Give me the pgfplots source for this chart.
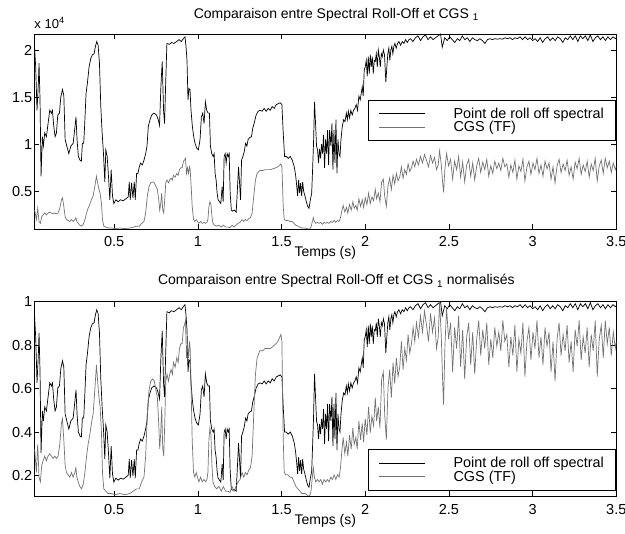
\documentclass[border=0pt]{standalone}
\usepackage{fontspec}
\setmainfont{Liberation Sans}
\usepackage{pgfplots}
\usepackage{pgfplotstable}
\pgfplotsset{compat=1.18}
\definecolor{cgsgray}{gray}{0.45}

\pgfplotstableread{
x y
0.021 21300
0.031 18200
0.039 13600
0.047 16500
0.051 18600
0.057 14700
0.063 6600
0.071 10800
0.077 9800
0.085 11200
0.095 10800
0.105 12200
0.115 13600
0.125 13300
0.131 13600
0.139 11900
0.147 10800
0.155 11200
0.163 13100
0.173 13300
0.181 15000
0.191 15800
0.199 15200
0.207 10500
0.217 9800
0.229 9000
0.241 9800
0.255 10100
0.266 11900
0.272 12900
0.278 10500
0.286 8700
0.296 8300
0.304 8200
0.310 10100
0.318 10100
0.324 12200
0.332 15400
0.340 16500
0.350 18200
0.360 19100
0.370 19500
0.380 19600
0.388 20400
0.396 20900
0.404 20500
0.412 18600
0.420 14000
0.428 11200
0.436 9000
0.444 6000
0.450 9400
0.458 8700
0.466 6600
0.474 4100
0.482 7300
0.490 4500
0.498 3700
0.510 4100
0.524 3900
0.538 4100
0.554 4000
0.570 4200
0.584 4400
0.590 6000
0.596 4100
0.604 5900
0.612 4300
0.620 6000
0.626 4100
0.634 6900
0.642 6900
0.650 7600
0.658 8000
0.668 7800
0.678 8300
0.688 9000
0.696 9800
0.704 11900
0.714 12600
0.724 13100
0.738 13300
0.753 13100
0.763 12600
0.771 12000
0.779 16100
0.787 18800
0.795 13600
0.801 12200
0.807 16100
0.815 20700
0.829 20600
0.843 20800
0.857 20700
0.873 20900
0.887 21100
0.901 20900
0.913 21200
0.923 21400
0.929 20400
0.935 18900
0.941 14700
0.947 15900
0.953 15800
0.959 13600
0.967 11900
0.975 10800
0.983 10100
0.993 9600
1.003 9400
1.013 10500
1.021 12900
1.029 13300
1.037 12200
1.045 14500
1.053 13600
1.061 13300
1.069 13300
1.075 9800
1.083 9000
1.091 8700
1.097 9000
1.103 6900
1.109 6200
1.115 4800
1.121 4100
1.129 3900
1.137 3700
1.145 5500
1.151 3900
1.157 8700
1.163 9000
1.169 8000
1.175 9000
1.181 8700
1.187 9000
1.193 4800
1.200 3000
1.207 2900
1.217 3000
1.229 2800
1.237 5500
1.243 7600
1.249 5900
1.255 4100
1.261 8300
1.269 8700
1.277 9200
1.285 10100
1.293 9800
1.300 10500
1.310 10700
1.320 10800
1.328 11700
1.336 12200
1.348 13100
1.360 13500
1.372 13600
1.384 13500
1.396 13800
1.408 13500
1.420 13800
1.432 13600
1.444 14000
1.456 13800
1.468 14200
1.480 14300
1.492 14400
1.502 14200
1.510 11200
1.518 8700
1.528 8700
1.540 8500
1.552 8700
1.564 8300
1.576 7600
1.584 6700
1.590 5700
1.596 4500
1.602 6200
1.608 4800
1.614 5900
1.620 4500
1.626 6000
1.632 5000
1.640 4500
1.648 3900
1.656 3400
1.664 3200
1.672 4100
1.680 4800
1.686 7600
1.691 10100
1.697 14500
1.703 12200
1.709 9800
1.715 9400
1.721 8000
1.727 9500
1.733 8500
1.739 10000
1.745 9000
1.751 11000
1.757 7500
1.763 10500
1.769 9000
1.775 11500
1.781 7800
1.787 11500
1.795 9800
1.801 12200
1.807 7300
1.813 11500
1.819 8000
1.825 12600
1.831 6900
1.837 10500
1.843 9000
1.849 8700
1.855 10500
1.863 11900
1.871 12600
1.879 12400
1.887 13300
1.893 12600
1.899 13500
1.906 12800
1.914 13600
1.922 13100
1.930 13600
1.938 13800
1.946 14200
1.954 13600
1.962 15100
1.970 14700
1.976 15400
1.982 16100
1.988 15100
1.994 17900
2.000 18200
2.006 18900
2.012 17200
2.018 19300
2.024 17500
2.030 19500
2.036 18200
2.042 19300
2.048 17500
2.054 18900
2.060 18800
2.066 19600
2.072 18200
2.078 20000
2.084 19300
2.090 18200
2.096 19600
2.102 19300
2.108 20000
2.115 19500
2.123 16600
2.129 18200
2.135 19600
2.141 20200
2.147 18900
2.153 20000
2.159 20400
2.165 19600
2.171 20400
2.177 20700
2.185 20200
2.193 20700
2.201 20900
2.211 20500
2.221 20900
2.231 20700
2.241 21100
2.251 20800
2.261 21100
2.270 21200
2.285 20900
2.300 21300
2.315 21500
2.330 21000
2.345 21400
2.360 21600
2.375 21100
2.390 21400
2.405 21100
2.420 21300
2.435 21500
2.450 21700
2.460 20300
2.475 21300
2.490 21000
2.505 21400
2.520 21100
2.535 20800
2.550 21200
2.565 21000
2.580 21500
2.595 21100
2.610 21300
2.625 20900
2.640 21300
2.655 21100
2.670 21000
2.685 21200
2.700 21000
2.715 20700
2.730 21100
2.745 21200
2.760 21100
2.775 21200
2.790 21150
2.805 21200
2.820 21150
2.835 21300
2.850 21200
2.865 21300
2.880 21100
2.895 21300
2.910 21200
2.925 21400
2.940 21100
2.955 21400
2.970 21100
2.985 21300
3.000 21000
3.015 21200
3.030 20900
3.045 21300
3.060 20800
3.075 21200
3.090 21400
3.105 21000
3.120 21300
3.135 21000
3.150 21400
3.165 21200
3.180 20800
3.195 21300
3.210 21100
3.225 21500
3.240 21100
3.255 21500
3.270 20900
3.285 21500
3.300 21200
3.315 21500
3.330 21000
3.345 21600
3.360 20900
3.375 21300
3.390 21500
3.405 21100
3.420 21400
3.435 21000
3.450 21400
3.465 21100
3.480 21400
3.495 21200
3.500 21300
}\rolloff

\pgfplotstableread{
x y
0.021 3000
0.025 3000
0.035 2000
0.043 3200
0.051 1800
0.059 1600
0.067 2300
0.075 2500
0.085 2700
0.095 2500
0.105 2700
0.115 2800
0.125 2700
0.135 2600
0.145 2700
0.155 2600
0.165 2700
0.175 3200
0.185 4100
0.191 4300
0.199 3400
0.207 2300
0.215 2000
0.225 1900
0.235 1800
0.245 2000
0.255 1800
0.265 2000
0.271 2200
0.277 1800
0.285 1600
0.295 1400
0.305 1300
0.315 1500
0.325 2000
0.335 2700
0.344 3200
0.354 3600
0.364 4100
0.374 4500
0.384 5500
0.394 6600
0.400 6000
0.408 5300
0.416 4800
0.424 3700
0.430 2000
0.438 1300
0.450 1200
0.464 1100
0.484 1100
0.504 1050
0.534 1100
0.564 1050
0.594 1100
0.614 1200
0.634 1300
0.650 1300
0.664 1600
0.678 1800
0.688 2700
0.698 4500
0.708 5500
0.718 5900
0.730 6000
0.740 5900
0.750 5500
0.758 5200
0.766 4100
0.772 3000
0.778 3700
0.784 4800
0.790 3000
0.796 2700
0.802 4100
0.808 5900
0.816 6200
0.824 5900
0.832 6200
0.840 6400
0.848 6200
0.854 6700
0.864 6500
0.874 6900
0.882 6700
0.890 7300
0.898 7500
0.906 7500
0.914 8200
0.920 8300
0.926 8500
0.932 6900
0.938 7500
0.944 6900
0.950 7600
0.954 7300
0.960 5500
0.966 3400
0.974 2000
0.982 1800
0.990 2000
0.998 1800
1.006 1600
1.016 1800
1.026 1600
1.036 1700
1.046 1600
1.054 1700
1.060 2000
1.066 3400
1.072 3900
1.078 3600
1.084 2300
1.090 1600
1.100 1400
1.112 1300
1.126 1400
1.140 1200
1.152 1400
1.166 1200
1.180 1200
1.192 1150
1.204 1400
1.216 1200
1.228 1400
1.240 1600
1.252 1700
1.264 2000
1.274 1800
1.284 2000
1.294 1900
1.304 2100
1.314 2200
1.324 2700
1.334 4500
1.344 6200
1.354 6900
1.370 7200
1.386 7200
1.402 7300
1.418 7300
1.434 7300
1.450 7400
1.466 7500
1.478 7600
1.490 7800
1.496 7900
1.502 7600
1.510 3400
1.516 2000
1.526 1900
1.538 1900
1.550 1800
1.562 1800
1.574 1600
1.586 1400
1.598 1300
1.610 1200
1.622 1100
1.640 1100
1.650 1050
1.660 1000
1.668 1000
1.676 1200
1.684 1800
1.690 2200
1.696 1800
1.704 1600
1.714 1700
1.724 1600
1.734 1700
1.744 1500
1.754 1700
1.764 1600
1.774 1700
1.784 1600
1.794 1800
1.804 1700
1.814 1900
1.824 1700
1.834 1900
1.844 1800
1.852 2200
1.860 2900
1.868 3500
1.878 2800
1.888 3300
1.896 2700
1.906 3600
1.916 3000
1.926 3900
1.934 3200
1.944 3500
1.952 3000
1.962 4200
1.972 3400
1.982 4100
1.990 3300
2.000 4300
2.010 3600
2.020 4800
2.030 3700
2.040 4400
2.050 4000
2.060 5200
2.068 4200
2.078 4800
2.088 3900
2.098 6000
2.108 6300
2.116 4500
2.126 3400
2.136 5600
2.146 6400
2.156 5200
2.166 6700
2.176 5800
2.186 6900
2.196 6100
2.206 6500
2.216 7600
2.226 6400
2.236 7300
2.246 6800
2.256 7900
2.266 7100
2.276 7500
2.286 8200
2.296 7600
2.306 8400
2.318 7800
2.330 8700
2.342 8000
2.354 8900
2.366 8300
2.378 7600
2.390 8800
2.402 8000
2.414 8600
2.426 7300
2.436 7800
2.444 9300
2.454 7900
2.462 6000
2.468 4900
2.476 7400
2.486 9000
2.498 7700
2.510 8400
2.522 6300
2.534 8200
2.546 7300
2.558 8700
2.570 6500
2.582 8100
2.594 6000
2.606 7800
2.618 8400
2.630 6600
2.642 8000
2.654 6200
2.666 7700
2.678 8500
2.690 7000
2.702 8100
2.714 7300
2.726 8400
2.738 6600
2.750 7700
2.762 6900
2.774 8200
2.786 7400
2.798 8000
2.810 7200
2.822 8500
2.834 7600
2.846 7900
2.858 6500
2.870 7800
2.882 7000
2.894 8300
2.906 6300
2.918 7700
2.930 7100
2.942 8400
2.954 6100
2.966 7600
2.978 8200
2.990 6800
3.002 8000
3.014 7300
3.026 8500
3.038 6900
3.050 7800
3.062 6600
3.074 8200
3.086 7400
3.098 8000
3.110 6300
3.122 7600
3.134 5900
3.146 7700
3.158 8400
3.170 7000
3.182 7900
3.194 7200
3.206 8300
3.218 6700
3.230 7600
3.242 6300
3.254 8100
3.266 7400
3.278 8500
3.290 6800
3.302 7800
3.314 7100
3.326 8200
3.338 6500
3.350 7900
3.362 7200
3.374 8500
3.386 6100
3.398 7700
3.410 8300
3.422 6900
3.434 8500
3.446 7500
3.458 8200
3.470 7000
3.482 8000
3.494 7300
3.500 7600
}\cgs

\newcommand{\txtfont}{\fontsize{14bp}{17bp}\selectfont}

\pgfplotsset{
  myax/.style={
    scale only axis, width=582bp,
    xmin=0.0227, xmax=3.5,
    xtick={0.5,1,1.5,2,2.5,3,3.5},
    tick label style={font=\fontsize{14.5bp}{17bp}\selectfont},
    /pgf/number format/assume math mode=true,
    axis line style={line width=0.8bp},
    every tick/.style={black, line width=0.6bp},
    major tick length=5bp,
    xticklabel style={anchor=base, yshift=-18bp},
    yticklabel style={xshift=1.5bp},
    legend cell align=left,
    legend image code/.code={\draw[##1] (0bp,0bp) -- (46bp,0bp);},
    legend style={font=\fontsize{14.4bp}{17bp}\selectfont, draw=black, line width=1bp,
      inner xsep=10bp, inner ysep=5.5bp, row sep=-2.5bp,
      /tikz/every odd column/.append style={column sep=26bp}},
  },
  blk/.style={black, line width=0.7bp},
  gry/.style={cgsgray, line width=0.7bp},
}

\begin{document}
\begin{tikzpicture}
\path[use as bounding box] (0,0) rectangle (625bp,534bp);
\begin{axis}[myax,
  at={(34.3bp,305bp)}, anchor=south west, height=195bp,
  ymin=1000, ymax=21700,
  ytick={5000,10000,15000,20000}, yticklabels={0.5,1,1.5,2},
  scaled y ticks=false,
  legend style={at={(rel axis cs:1,0.451)}, anchor=south east},
  after end axis/.code={
    \node[anchor=base west, inner sep=0pt, font=\fontsize{13bp}{15bp}\selectfont] at ([yshift=5.7bp]rel axis cs:0,1) {x 10\textsuperscript{4}};
    \node[anchor=base, inner sep=0pt, font=\txtfont] at ([xshift=11bp,yshift=15.7bp]rel axis cs:0.5,1) {Comparaison entre Spectral Roll-Off et CGS \textsubscript{1}};
    \node[anchor=base, inner sep=0pt, font=\txtfont] at ([yshift=-28bp]rel axis cs:0.5,0) {Temps (s)};
  },
]
\addplot[blk] table[x=x,y=y] {\rolloff};
\addplot[gry] table[x=x,y=y] {\cgs};
\legend{Point de roll off spectral, CGS (TF)}
\end{axis}
\begin{axis}[myax,
  at={(34.3bp,38bp)}, anchor=south west, height=194.3bp,
  ymin=0.107, ymax=1,
  ytick={0.2,0.4,0.6,0.8,1},
  legend style={at={(rel axis cs:1,0.027)}, anchor=south east},
  after end axis/.code={
    \node[anchor=base, inner sep=0pt, font=\txtfont] at ([xshift=11bp,yshift=16.7bp]rel axis cs:0.5,1) {Comparaison entre Spectral Roll-Off et CGS \textsubscript{1} normalisés};
    \node[anchor=base, inner sep=0pt, font=\txtfont] at ([yshift=-28bp]rel axis cs:0.5,0) {Temps (s)};
  },
]
\addplot[blk] table[x=x,y expr=\thisrow{y}/21700] {\rolloff};
\addplot[gry] table[x=x,y expr=\thisrow{y}/9300] {\cgs};
\legend{Point de roll off spectral, CGS (TF)}
\end{axis}
\end{tikzpicture}
\end{document}
